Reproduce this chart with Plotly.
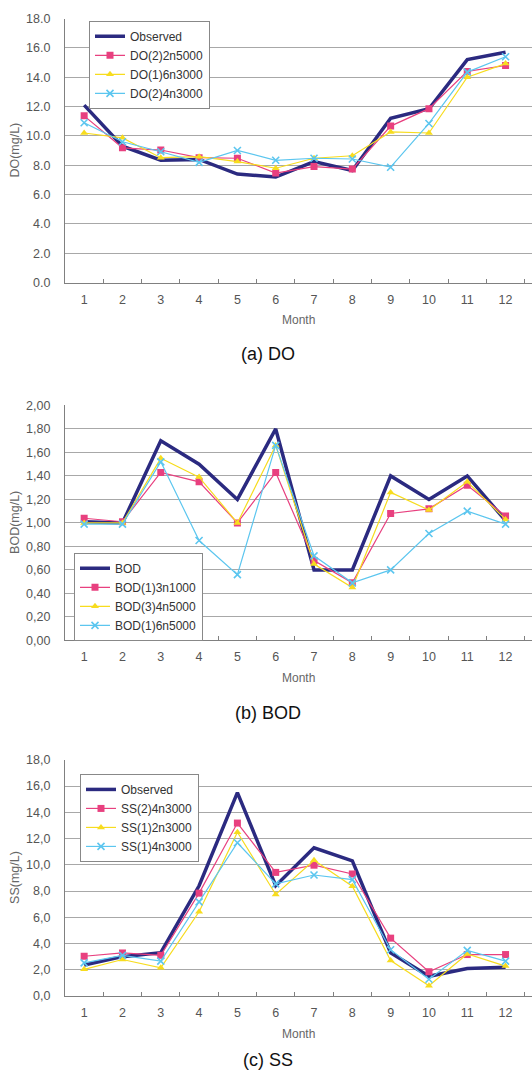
import plotly.graph_objects as go

months = [str(m) for m in range(1, 13)]

# (a) DO
do_names = ["Observed", "DO(2)2n5000", "DO(1)6n3000", "DO(2)4n3000"]
do_obs = [12.1, 9.3, 8.35, 8.4, 7.4, 7.2, 8.25, 7.65, 11.2, 11.85, 15.2, 15.7]
do_s1 = [11.37, 9.19, 9.04, 8.52, 8.48, 7.47, 7.91, 7.74, 10.67, 11.86, 14.4, 14.8]
do_s2 = [10.2, 9.87, 8.52, 8.59, 8.25, 7.8, 8.48, 8.65, 10.27, 10.2, 14.0, 14.93]
do_s3 = [10.9, 9.6, 8.92, 8.2, 9.01, 8.34, 8.48, 8.43, 7.87, 10.85, 14.35, 15.4]
do_ticks = [0, 2, 4, 6, 8, 10, 12, 14, 16, 18]
do_ticktext = ["0.0", "2.0", "4.0", "6.0", "8.0", "10.0", "12.0", "14.0", "16.0", "18.0"]

# (b) BOD
bod_names = ["BOD", "BOD(1)3n1000", "BOD(3)4n5000", "BOD(1)6n5000"]
bod_obs = [1.01, 1.00, 1.70, 1.50, 1.20, 1.80, 0.60, 0.60, 1.40, 1.20, 1.40, 1.02]
bod_s1 = [1.04, 1.01, 1.43, 1.35, 1.00, 1.43, 0.68, 0.49, 1.08, 1.12, 1.32, 1.06]
bod_s2 = [1.00, 1.00, 1.55, 1.39, 1.00, 1.66, 0.65, 0.45, 1.26, 1.11, 1.35, 1.03]
bod_s3 = [0.99, 0.99, 1.52, 0.85, 0.56, 1.66, 0.72, 0.49, 0.60, 0.91, 1.10, 0.99]
bod_ticks = [0, 0.2, 0.4, 0.6, 0.8, 1.0, 1.2, 1.4, 1.6, 1.8, 2.0]
bod_ticktext = ["0,00", "0,20", "0,40", "0,60", "0,80", "1,00", "1,20", "1,40", "1,60", "1,80", "2,00"]

# (c) SS
ss_names = ["Observed", "SS(2)4n3000", "SS(1)2n3000", "SS(1)4n3000"]
ss_obs = [2.36, 3.0, 3.3, 8.4, 15.5, 8.4, 11.3, 10.3, 3.3, 1.5, 2.1, 2.2]
ss_s1 = [3.03, 3.28, 3.1, 7.84, 13.18, 9.42, 9.97, 9.3, 4.41, 1.85, 3.16, 3.16]
ss_s2 = [2.03, 2.78, 2.15, 6.42, 12.48, 7.74, 10.35, 8.37, 2.7, 0.78, 3.2, 2.28]
ss_s3 = [2.53, 3.1, 2.66, 7.17, 11.68, 8.55, 9.22, 8.87, 3.53, 1.28, 3.48, 2.66]
ss_ticks = [0, 2, 4, 6, 8, 10, 12, 14, 16, 18]
ss_ticktext = ["0,0", "2,0", "4,0", "6,0", "8,0", "10,0", "12,0", "14,0", "16,0", "18,0"]

captions = ["(a) DO", "(b) BOD", "(c) SS"]
ytitles = ["DO(mg/L)", "BOD(mg/L)", "SS(mg/L)"]
xtitle = "Month"

W, H = 532, 1080
NAVY = "#2B2A80"
PINK = "#E8407F"
YELLOW = "#F7DC1E"
CYAN = "#5CC6EF"
FONT = "Liberation Sans, Arial, sans-serif"

fig = go.Figure()

panels = [
    dict(names=do_names, data=[do_obs, do_s1, do_s2, do_s3], ticks=do_ticks, tt=do_ticktext,
         rng=[0, 18], top=11.7, bot=279.3, leg=(89, 14)),
    dict(names=bod_names, data=[bod_obs, bod_s1, bod_s2, bod_s3], ticks=bod_ticks, tt=bod_ticktext,
         rng=[0, 2.0], top=403.7, bot=641.7, leg=(74, 553)),
    dict(names=ss_names, data=[ss_obs, ss_s1, ss_s2, ss_s3], ticks=ss_ticks, tt=ss_ticktext,
         rng=[0, 18], top=762.7, bot=1002.0, leg=(80, 777)),
]

styles = [
    dict(line=dict(color=NAVY, width=3.5), mode="lines", marker=None),
    dict(line=dict(color=PINK, width=1.2), mode="lines+markers",
         marker=dict(symbol="square", size=7, color=PINK)),
    dict(line=dict(color=YELLOW, width=1.2), mode="lines+markers",
         marker=dict(symbol="triangle-up", size=7, color=YELLOW)),
    dict(line=dict(color=CYAN, width=1.2), mode="lines+markers",
         marker=dict(symbol="x-thin", size=7, color=CYAN, line=dict(color=CYAN, width=1.6))),
]

layout = dict(
    width=W, height=H, margin=dict(l=0, r=0, t=0, b=0),
    paper_bgcolor="white", plot_bgcolor="white",
    font=dict(family=FONT, size=12, color="#555555"),
    showlegend=True,
)
annotations = []

for i, p in enumerate(panels):
    sfx = "" if i == 0 else str(i + 1)
    xa, ya = "x" + sfx, "y" + sfx
    legname = "legend" + sfx
    for k in range(4):
        st = styles[k]
        tr = dict(x=months, y=p["data"][k], name=p["names"][k], mode=st["mode"],
                  line=st["line"], xaxis=xa, yaxis=ya, legend=legname)
        if st["marker"]:
            tr["marker"] = st["marker"]
        fig.add_trace(go.Scatter(**tr))
    ydom = [1 - p["bot"] / H, 1 - p["top"] / H]
    layout["xaxis" + sfx] = dict(
        domain=[65 / W, 1], type="category", range=[-0.5, 11.69],
        tickson="boundaries", ticks="inside", ticklen=4, tickcolor="#808080",
        showgrid=False, showline=True, linecolor="#808080", linewidth=1.2,
        tickfont=dict(size=12.5, color="#555555"), ticklabelstandoff=5,
        anchor=ya, zeroline=False,
    )
    layout["yaxis" + sfx] = dict(
        domain=ydom, range=p["rng"], tickvals=p["ticks"], ticktext=p["tt"],
        showgrid=True, gridcolor="#A8A8A8", gridwidth=1,
        showline=True, linecolor="#808080", linewidth=1.2, ticks="",
        tickfont=dict(size=12.5, color="#555555"), ticklabelstandoff=11,
        anchor=xa, zeroline=False,
    )
    lx, ly = p["leg"]
    layout[legname] = dict(
        x=lx / W, y=1 - ly / H, xanchor="left", yanchor="top",
        bgcolor="white", bordercolor="#888888", borderwidth=1,
        font=dict(family=FONT, size=12, color="#333333"),
        itemwidth=30, tracegroupgap=0, traceorder="normal",
    )
    annotations.append(dict(text=xtitle, x=298 / W, y=1 - (p["bot"] + 38) / H,
                            xref="paper", yref="paper", showarrow=False,
                            font=dict(size=12, color="#666666"), xanchor="center", yanchor="middle"))
    annotations.append(dict(text=ytitles[i], x=15 / W, y=1 - ((p["top"] + p["bot"]) / 2) / H,
                            xref="paper", yref="paper", showarrow=False, textangle=-90,
                            font=dict(size=12.5, color="#666666"), xanchor="center", yanchor="middle"))
    cap_y = [352, 715, 1067][i]
    annotations.append(dict(text=captions[i], x=268 / W, y=1 - cap_y / H,
                            xref="paper", yref="paper", showarrow=False,
                            font=dict(size=18, color="#111111"), xanchor="center", yanchor="middle"))

layout["annotations"] = annotations
fig.update_layout(**layout)
fig.write_html(
    "out.html",
    config={"displayModeBar": False},
    post_script="document.body.style.margin='0';document.body.style.padding='0';"
                "document.documentElement.style.overflow='hidden';",
)
